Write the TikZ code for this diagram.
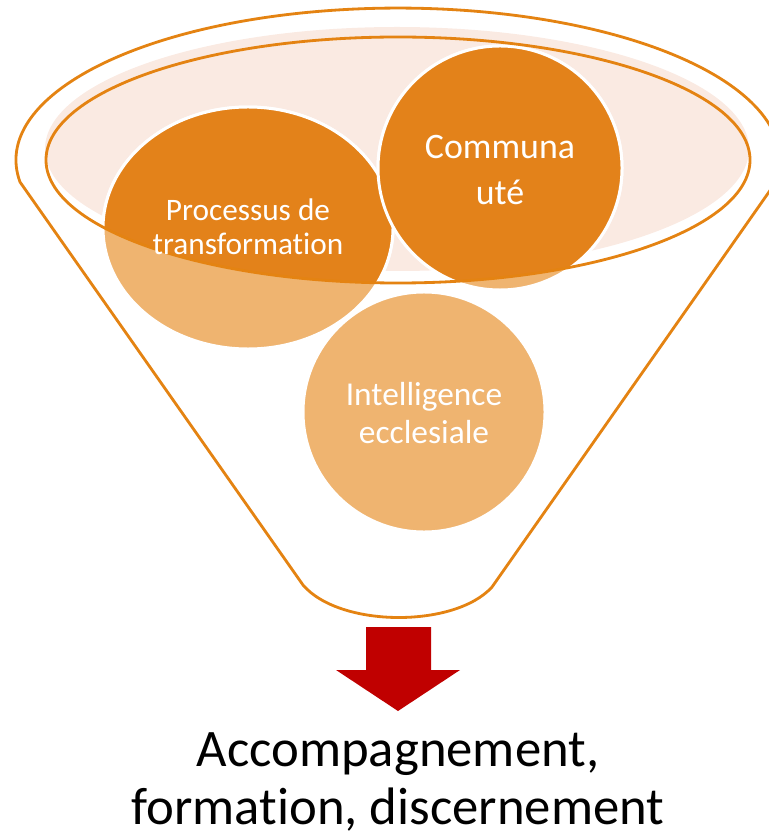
\documentclass[tikz,border=0pt]{standalone}
\usepackage{fontspec}
\setmainfont{Carlito}[Ligatures=NoCommon]
\definecolor{funnelorange}{HTML}{E48312}
\definecolor{balldark}{HTML}{E3821A}
\definecolor{balllight}{HTML}{EFB470}
\definecolor{rimpink}{HTML}{FAEAE2}
\definecolor{arrowred}{HTML}{C00000}
\begin{document}
\begin{tikzpicture}[x=0.02cm, y=-0.02cm,
        ball/.style={draw=white, line width=1.7pt},
        rim/.style={draw=funnelorange, line width=1.6pt},
        balltext/.style={text=white, align=center}]
    \useasboundingbox (0,0) rectangle (768,837);
    \fill[rimpink] (397,149) ellipse (352 and 122);
    % balls seen through the funnel
    \filldraw[ball, fill=balllight] (248,228) ellipse (145 and 121);
    \filldraw[ball, fill=balllight] (500,168) ellipse (122 and 122);
    \filldraw[ball, fill=balllight] (424,412) ellipse (121 and 120);
    % part of the balls above the rim
    \begin{scope}
        \clip (398,160) ellipse (352 and 123);
        \filldraw[ball, fill=balldark] (248,228) ellipse (145 and 121);
        \filldraw[ball, fill=balldark] (500,168) ellipse (122 and 122);
    \end{scope}
    \draw[rim] (398,160) ellipse (352 and 123);
    \draw[rim] (303,585) -- (20,182) arc (171.7:368.3:382 and 152) -- (492,587)
        .. controls (455,628) and (340,628) .. (303,585) -- cycle;
    \node[balltext, font=\fontsize{17.8}{19.6}\selectfont] (process) at (248,227) {Processus de\\transformation};
    \node[balltext, font=\fontsize{20.4}{26}\selectfont] (community) at (500,170) {Communa\\uté};
    \node[balltext, font=\fontsize{19}{22}\selectfont] (intelligence) at (424,413) {Intelligence\\ecclesiale};
    % arrow out of the funnel
    \fill[arrowred] (366,627) -- (431,627) -- (431,670) -- (460,670) -- (398,711) -- (336,670) -- (366,670) -- cycle;
    \node[align=center, font=\fontsize{30}{33.5}\selectfont] (result) at (398,782) {Accompagnement,\\formation, discernement};
\end{tikzpicture}
\end{document}
